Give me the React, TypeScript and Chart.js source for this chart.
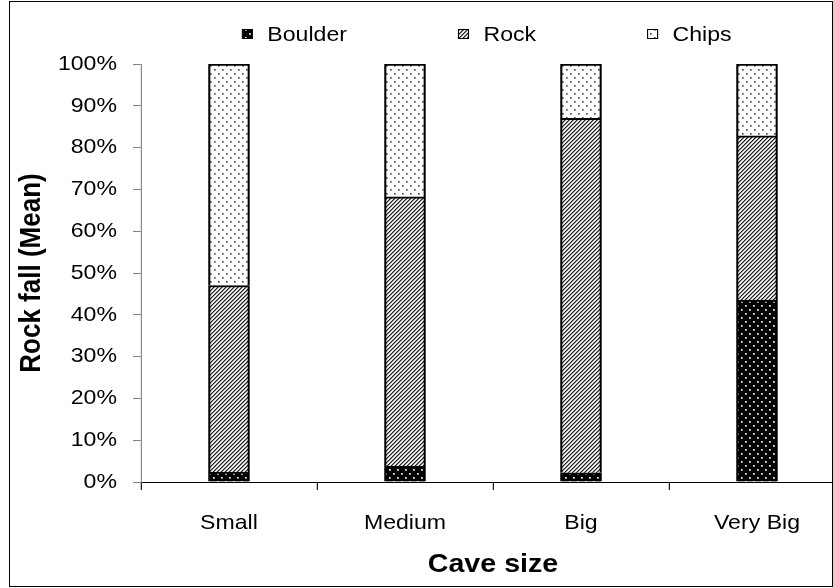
import { useEffect, useRef } from "react";
import { Chart, registerables } from "chart.js";

Chart.register(...registerables);

// Cave size categories and mean rock fall composition (% of total)
const categories = ["Small", "Medium", "Big", "Very Big"];
const seriesNames = ["Boulder", "Rock", "Chips"];
const boulder = [2.4, 3.8, 2.2, 43.5];
const rock = [44.6, 64.4, 84.8, 39.3];
const chips = [53.0, 31.8, 13.0, 17.2];
const yTickStep = 10;
const yMax = 100;

const FONT = '"Liberation Sans", Arial, Helvetica, sans-serif';

// The artwork is drawn with a slight horizontal stretch (SX); layout values
// below are given in screen pixels and divided by SX for the chart.
const SX = 1.1;
const VIEW_W = 870;
const VIEW_H = 588;
const LOGICAL_W = Math.round(VIEW_W / SX);
const lx = (px: number) => px / SX;

function tile(size: number, paint: (g: CanvasRenderingContext2D) => void) {
  const c = document.createElement("canvas");
  c.width = size;
  c.height = size;
  const g = c.getContext("2d")!;
  paint(g);
  return c;
}

// Black ground with a staggered grid of light dots
function boulderTile() {
  return tile(8, (g) => {
    g.fillStyle = "#000";
    g.fillRect(0, 0, 8, 8);
    g.fillStyle = "#9a9a9a";
    g.fillRect(1, 1, 2, 2);
    g.fillRect(5, 5, 2, 2);
    g.fillStyle = "#ffffff";
    g.fillRect(1, 1, 1, 1);
    g.fillRect(5, 5, 1, 1);
  });
}

// Upward diagonal hatching
function rockTile() {
  return tile(4, (g) => {
    const shades = ["#1e1e1e", "#8a8a8a", "#ffffff", "#d4d4d4"];
    for (let y = 0; y < 4; y++) {
      for (let x = 0; x < 4; x++) {
        g.fillStyle = shades[(x + y) % 4];
        g.fillRect(x, y, 1, 1);
      }
    }
  });
}

// White ground with sparse small dark dots
function chipsTile() {
  return tile(8, (g) => {
    g.fillStyle = "#fff";
    g.fillRect(0, 0, 8, 8);
    g.fillStyle = "#9c9c9c";
    g.fillRect(2, 1, 2, 2);
    g.fillRect(6, 5, 2, 2);
    g.fillStyle = "#3a3a3a";
    g.fillRect(2, 1, 1, 1);
    g.fillRect(6, 5, 1, 1);
  });
}

const stretchPlugin = {
  id: "stretchFrameKey",
  beforeDraw(chart: any) {
    const { ctx } = chart;
    ctx.save();
    ctx.setTransform(SX, 0, 0, 1, 0, 0);
    ctx.fillStyle = "#fff";
    ctx.fillRect(0, 0, chart.width, chart.height);
  },
  afterDraw(chart: any) {
    const { ctx } = chart;
    ctx.save();
    // outer frame
    ctx.setTransform(1, 0, 0, 1, 0, 0);
    ctx.strokeStyle = "#000";
    ctx.lineWidth = 1;
    ctx.strokeRect(9.5, 1.5, 823, VIEW_H - 3);
    ctx.restore();

    // key across the top
    ctx.save();
    ctx.font = `21px ${FONT}`;
    ctx.textBaseline = "middle";
    ctx.textAlign = "left";
    const boxW = lx(10);
    const boxH = 10;
    const gapText = lx(15);
    const gapItem = lx(111.5);
    const items = chart.data.datasets.map((ds: any) => ({
      label: ds.label,
      fill: ds.backgroundColor,
      w: boxW + gapText + ctx.measureText(ds.label).width,
    }));
    const total =
      items.reduce((s: number, it: any) => s + it.w, 0) + gapItem * (items.length - 1);
    const centerX = lx(487);
    const cy = 34;
    let x = centerX - total / 2;
    for (const it of items) {
      ctx.fillStyle = it.fill;
      ctx.fillRect(x, cy - boxH / 2, boxW, boxH);
      ctx.strokeStyle = "#000";
      ctx.lineWidth = 1;
      ctx.strokeRect(x, cy - boxH / 2 + 0.5, boxW, boxH - 1);
      ctx.fillStyle = "#000";
      ctx.fillText(it.label, x + boxW + gapText, cy + 1);
      x += it.w + gapItem;
    }
    ctx.restore();
    ctx.restore();
  },
};

export default function App() {
  const canvasRef = useRef<HTMLCanvasElement | null>(null);

  useEffect(() => {
    const canvas = canvasRef.current!;
    const ctx = canvas.getContext("2d")!;
    // patterns keep screen-pixel spacing under the horizontal stretch
    const pat = (c: HTMLCanvasElement) => {
      const p = ctx.createPattern(c, "repeat")!;
      p.setTransform(new DOMMatrix([1 / SX, 0, 0, 1, 0, 0]));
      return p;
    };
    const fills = [pat(boulderTile()), pat(rockTile()), pat(chipsTile())];
    const values = [boulder, rock, chips];

    const chart = new Chart(canvas, {
      type: "bar",
      data: {
        labels: categories,
        datasets: seriesNames.map((name, i) => ({
          label: name,
          data: values[i],
          backgroundColor: fills[i] as any,
          borderColor: "#000",
          borderWidth: 2,
          barThickness: lx(41),
        })),
      },
      options: {
        responsive: false,
        animation: false,
        devicePixelRatio: 1,
        layout: {
          padding: { left: lx(9), top: 64, right: LOGICAL_W - lx(845), bottom: 0 },
        },
        plugins: {
          legend: { display: false },
          tooltip: { enabled: false },
        },
        scales: {
          x: {
            stacked: true,
            afterFit: (s: any) => {
              s.height = 106;
            },
            grid: {
              offset: true,
              drawOnChartArea: false,
              drawTicks: true,
              tickLength: 8,
              color: "#000",
            },
            border: { display: true, color: "#000", width: 1 },
            ticks: {
              color: "#000",
              padding: 21,
              font: { family: FONT, size: 21 },
            },
            title: {
              display: true,
              text: "Cave size",
              color: "#000",
              font: { family: FONT, size: 26, weight: "bold" },
              padding: { top: 0, bottom: 7.4 },
            },
          },
          y: {
            stacked: true,
            min: 0,
            max: yMax,
            afterFit: (s: any) => {
              s.width = lx(141 - 9);
            },
            grid: {
              drawOnChartArea: false,
              drawTicks: true,
              tickLength: lx(8),
              color: "#808080",
            },
            border: { display: true, color: "#808080", width: 1 },
            ticks: {
              stepSize: yTickStep,
              color: "#000",
              padding: lx(16),
              font: { family: FONT, size: 21 },
              callback: (v: any) => `${v}%`,
            },
            title: {
              display: true,
              text: "Rock fall (Mean)",
              color: "#000",
              font: { family: FONT, size: 26, weight: "bold" },
              padding: { top: lx(32) - lx(9) - 15.6, bottom: 0 },
            },
          },
        },
      },
      plugins: [stretchPlugin],
    });

    // widen the bitmap to screen size; the plugin maps logical x to screen x
    canvas.width = VIEW_W;
    canvas.height = VIEW_H;
    chart.draw();

    return () => chart.destroy();
  }, []);

  return (
    <div
      style={{
        position: "fixed",
        left: 0,
        top: 0,
        width: 833,
        height: 588,
        overflow: "hidden",
        background: "#fff",
      }}
    >
      <canvas
        ref={canvasRef}
        width={LOGICAL_W}
        height={VIEW_H}
        style={{ display: "block", width: VIEW_W, height: VIEW_H }}
      />
    </div>
  );
}
